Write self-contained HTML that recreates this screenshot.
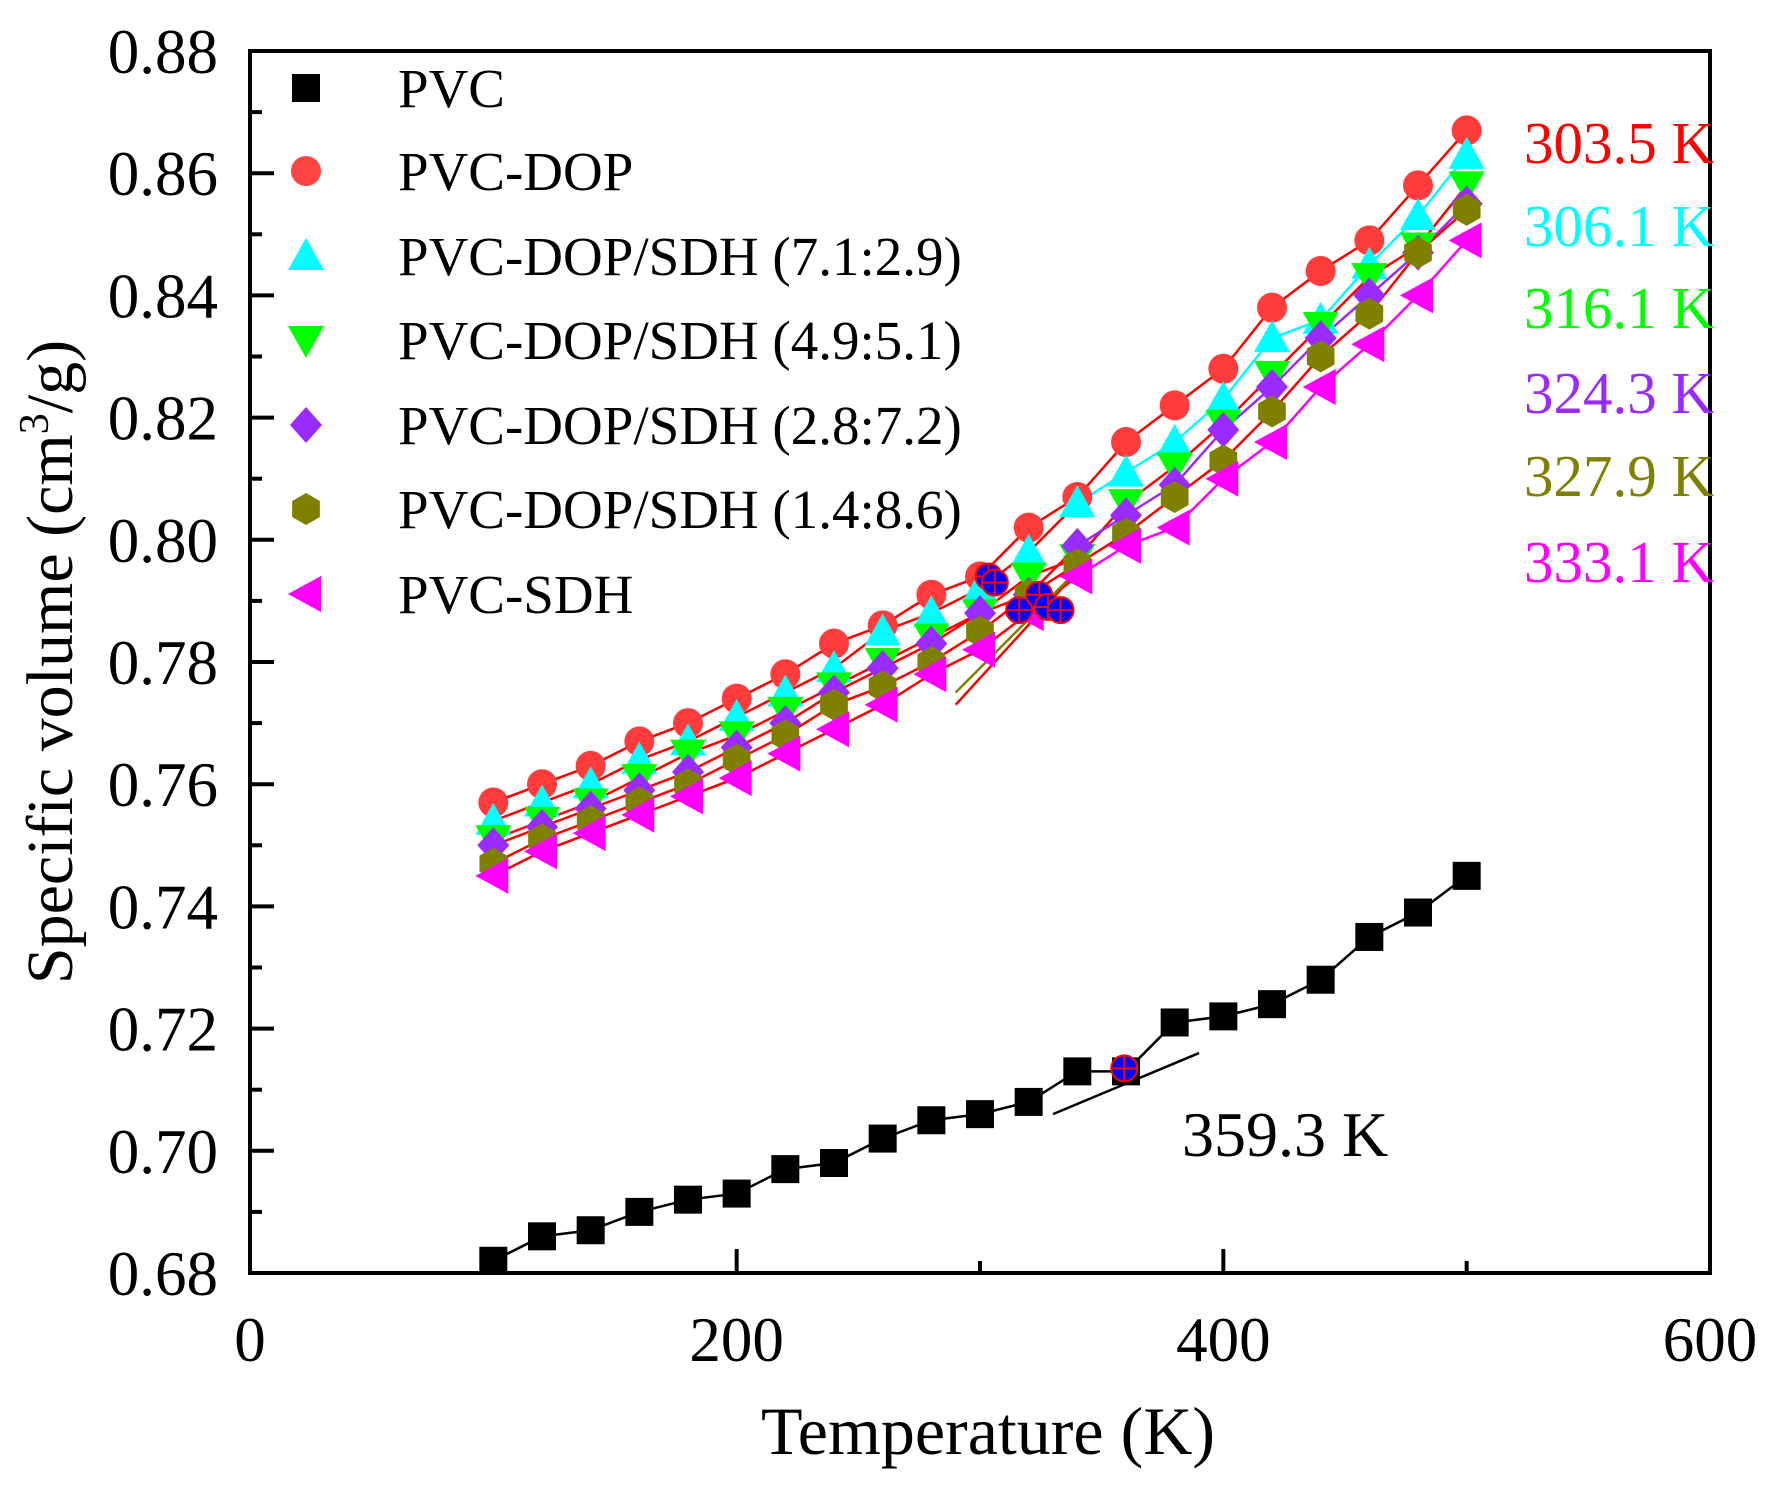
<!DOCTYPE html>
<html><head><meta charset="utf-8"><style>
html,body{margin:0;padding:0;background:#fff}
svg text{font-family:"Liberation Serif",serif}
</style></head><body>
<svg id="s" width="1781" height="1481" xmlns="http://www.w3.org/2000/svg"></svg>
<script>
const s=document.getElementById('s');
const X0=250,X1=1710,Y0=51,Y1=1273;
const xm=t=>X0+(t)/600*(X1-X0);
const ym=v=>Y0+(0.88-v)/0.2*(Y1-Y0);
let h='';
const T=[];for(let t=100;t<=500;t+=20)T.push(t);
const D=[
['#000','sq',[.682,.686,.687,.690,.692,.693,.697,.698,.702,.705,.706,.708,.713,.713,.721,.722,.724,.728,.735,.739,.745]],
['#ff3b3b','ci',[.757,.760,.763,.767,.770,.774,.778,.783,.786,.791,.794,.802,.807,.816,.822,.828,.838,.844,.849,.858,.867]],
['#00ffff','tu',[.754,.757,.760,.764,.767,.771,.775,.779,.785,.788,.792,.798,.806,.811,.816,.823,.833,.836,.845,.853,.863]],
['#00ff00','td',[.751,.754,.757,.761,.765,.768,.772,.776,.780,.784,.788,.794,.797,.806,.812,.819,.827,.835,.843,.848,.858]],
['#9a2bff','di',[.750,.753,.756,.759,.762,.766,.770,.775,.779,.783,.788,.791,.799,.804,.809,.818,.825,.833,.840,.847,.855]],
['#808000','hx',[.747,.751,.754,.757,.760,.764,.768,.773,.776,.780,.785,.791,.796,.801,.807,.813,.821,.830,.837,.847,.854]],
['#ff00ff','tl',[.745,.749,.752,.755,.758,.761,.765,.769,.773,.778,.782,.788,.794,.799,.802,.810,.816,.825,.832,.840,.849]]];
function mk(type,x,y,c){const r=14;
if(type=='sq')return `<rect x="${x-r}" y="${y-r}" width="${2*r}" height="${2*r}" fill="${c}"/>`;
if(type=='ci')return `<circle cx="${x}" cy="${y}" r="${r+1}" fill="${c}"/>`;
if(type=='tu')return `<polygon points="${x},${y-r-4} ${x-r-4},${y+r} ${x+r+4},${y+r}" fill="${c}"/>`;
if(type=='td')return `<polygon points="${x},${y+r+4} ${x-r-4},${y-r} ${x+r+4},${y-r}" fill="${c}"/>`;
if(type=='di')return `<polygon points="${x},${y-r-4} ${x+r+2},${y} ${x},${y+r+4} ${x-r-2},${y}" fill="${c}"/>`;
if(type=='hx'){let p=[];for(let i=0;i<6;i++){let a=Math.PI/3*i+Math.PI/6;p.push((x+16*Math.cos(a))+','+(y+16*Math.sin(a)))}return `<polygon points="${p.join(' ')}" fill="${c}"/>`}
if(type=='tl')return `<polygon points="${x-r-4},${y} ${x+r+1},${y-r-4} ${x+r+1},${y+r+4}" fill="${c}"/>`;}
D.forEach((d,i)=>{let c=i==0?'#000':(i==1?'#f00':d[0]);let lc=i==0?'#000':'#f00';
let a=T.slice(0,13).map((t,j)=>xm(t)+','+ym(d[2][j])).join(' ');
let b=T.slice(12).map((t,j)=>xm(t)+','+ym(d[2][j+12])).join(' ');
h+=`<polyline points="${a}" fill="none" stroke="${lc}" stroke-width="2.5"/><polyline points="${b}" fill="none" stroke="${i%2?lc:c}" stroke-width="2.5"/>`;});
h+=`<line x1="${xm(290)}" y1="${ym(.773)}" x2="${xm(345)}" y2="${ym(.797)}" stroke="#f00" stroke-width="2.5"/>`;
h+=`<line x1="${xm(290)}" y1="${ym(.775)}" x2="${xm(340)}" y2="${ym(.795)}" stroke="#808000" stroke-width="2.5"/>`;
h+=`<line x1="${xm(330)}" y1="${ym(.706)}" x2="${xm(390)}" y2="${ym(.716)}" stroke="#000" stroke-width="2.5"/>`;
D.forEach(d=>T.forEach((t,j)=>h+=mk(d[1],xm(t),ym(d[2][j]),d[0])));
[[303.5,.794],[306.1,.793],[316.1,.7885],[324.3,.791],[327.9,.789],[333.1,.7885],[359.3,.7135]].forEach(p=>{let x=xm(p[0]),y=ym(p[1]);
h+=`<circle cx="${x}" cy="${y}" r="13" fill="#0000ff" stroke="#f00" stroke-width="2"/><line x1="${x-13}" y1="${y}" x2="${x+13}" y2="${y}" stroke="#f00" stroke-width="2"/><line x1="${x}" y1="${y-13}" x2="${x}" y2="${y+13}" stroke="#f00" stroke-width="2"/>`;});
h+=`<rect x="${X0}" y="${Y0}" width="${X1-X0}" height="${Y1-Y0}" fill="none" stroke="#000" stroke-width="4"/>`;
for(let i=0;i<=20;i++){let y=ym(.68+i*.01);let L=i%2?12:24;h+=`<line x1="${X0}" y1="${y}" x2="${X0+L}" y2="${y}" stroke="#000" stroke-width="4"/>`;
if(i%2==0)h+=`<text x="${X0-32}" y="${y+22}" font-size="63" text-anchor="end">${(.68+i*.01).toFixed(2)}</text>`;}
for(let t=0;t<=600;t+=100){let x=xm(t);let L=t%200?12:24;h+=`<line x1="${x}" y1="${Y1}" x2="${x}" y2="${Y1-L}" stroke="#000" stroke-width="4"/>`;
if(t%200==0)h+=`<text x="${x}" y="${Y1+88}" font-size="63" text-anchor="middle">${t}</text>`;}
h+=`<text x="988" y="1454" font-size="68" text-anchor="middle">Temperature (K)</text>`;
h+=`<text transform="translate(72,662) rotate(-90)" font-size="66" text-anchor="middle">Specific volume (cm<tspan font-size="42" dy="-24">3</tspan><tspan dy="24">/g)</tspan></text>`;
const lg=['PVC','PVC-DOP','PVC-DOP/SDH (7.1:2.9)','PVC-DOP/SDH (4.9:5.1)','PVC-DOP/SDH (2.8:7.2)','PVC-DOP/SDH (1.4:8.6)','PVC-SDH'];
const ly=[88,171,256,340,425,509,594];
lg.forEach((t,i)=>{h+=mk(D[i][1],306,ly[i],i==1?'#ff4444':D[i][0]);h+=`<text x="398" y="${ly[i]+19}" font-size="55">${t}</text>`;});
const rl=[['303.5 K','#f00',143],['306.1 K','#00ffff',226],['316.1 K','#00ff00',308],['324.3 K','#9a2bff',393],['327.9 K','#808000',476],['333.1 K','#ff00ff',562]];
rl.forEach(r=>h+=`<text x="1524" y="${r[2]+20}" font-size="59" fill="${r[1]}">${r[0]}</text>`);
h+=`<text x="1182" y="1156" font-size="64">359.3 K</text>`;
s.innerHTML=h;
</script>
</body></html>
